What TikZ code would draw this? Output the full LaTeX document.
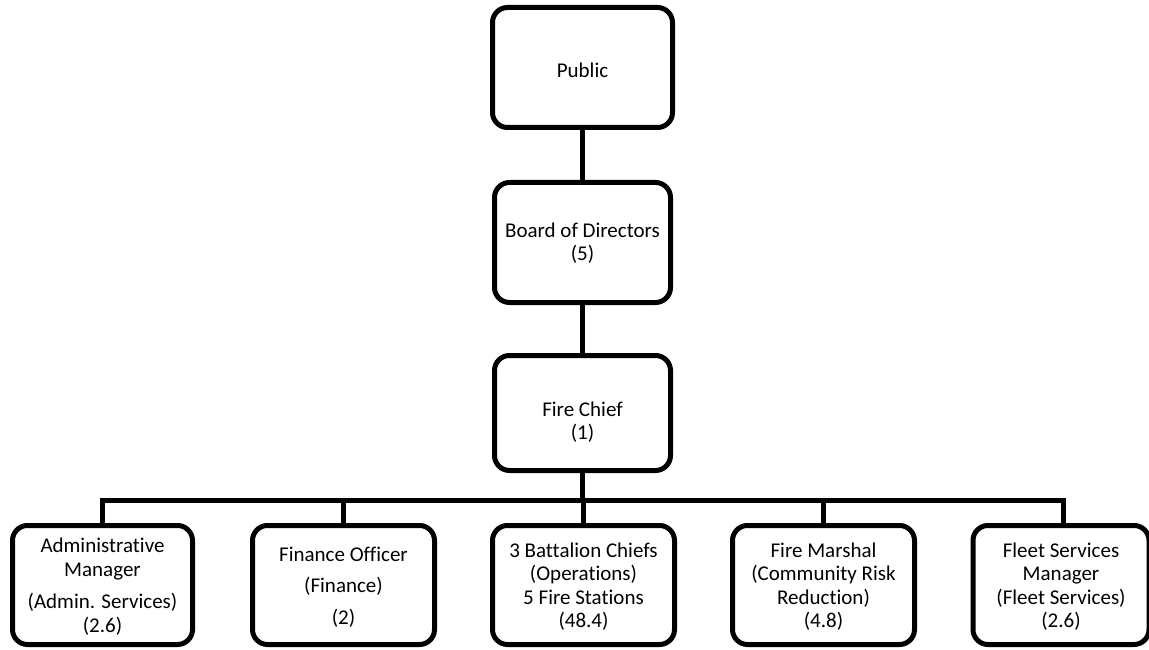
\documentclass[tikz,border=0pt]{standalone}
\usepackage{fontspec}
\setmainfont{Carlito}[Ligatures={NoCommon}]
\begin{document}
\begin{tikzpicture}[x=1pt,y=-1pt,
  box/.style={draw=black, line width=5pt, rounded corners=15pt, inner sep=0pt, fill=white},
  lbl/.style={align=center, font=\fontsize{21}{23.5}\selectfont, inner sep=0pt},
  conn/.style={draw=black, line width=5pt, line join=miter}]
\useasboundingbox[fill=white] (0,0) rectangle (1149,650);
% boxes
\node[box, minimum width=180pt, minimum height=120pt] (public) at (582.5,67.5) {};
\node[box, minimum width=176pt, minimum height=120pt] (board) at (582.5,242.5) {};
\node[box, minimum width=176pt, minimum height=115pt] (chief) at (582.5,413) {};
\node[box, minimum width=180pt, minimum height=119pt] (admin) at (102.5,585) {};
\node[box, minimum width=182pt, minimum height=119pt] (finance) at (343.5,585) {};
\node[box, minimum width=182pt, minimum height=119pt] (ops) at (583.5,585) {};
\node[box, minimum width=182pt, minimum height=119pt] (marshal) at (823.5,585) {};
\node[box, minimum width=176pt, minimum height=119pt] (fleet) at (1061,585) {};
% labels
\node[lbl] (publicT) at (582.5,70) {Public};
\node[lbl] (boardT) at (582.5,243) {Board of Directors\\(5)};
\node[lbl] (chiefT) at (582.5,422) {Fire Chief\\(1)};
\node[lbl] (adminT) at (102.5,586.5) {Administrative\\Manager\\[9pt](Admin. Services)\\(2.6)};
\node[lbl] (financeT) at (343.5,587) {Finance Officer\\[8pt](Finance)\\[8pt](2)};
\node[lbl] (opsT) at (583.5,586.5) {3 Battalion Chiefs\\(Operations)\\5 Fire Stations\\(48.4)};
\node[lbl] (marshalT) at (823.5,586.5) {Fire Marshal\\(Community Risk\\Reduction)\\(4.8)};
\node[lbl] (fleetT) at (1061,586.5) {Fleet Services\\Manager\\(Fleet Services)\\(2.6)};
% connectors
\coordinate (bar) at (582.5,500);
\draw[conn] (public.south) -- (board.north);
\draw[conn] (board.south) -- (chief.south |- chief.north);
\draw[conn] (chief.south) -- (bar);
\draw[conn] (bar) -| (admin.north);
\draw[conn] (bar) -| (finance.north);
\draw[conn] (bar) -| (ops.north);
\draw[conn] (bar) -| (marshal.north);
\draw[conn] (bar) -| ([xshift=2pt]fleet.north);
\end{tikzpicture}
\end{document}
